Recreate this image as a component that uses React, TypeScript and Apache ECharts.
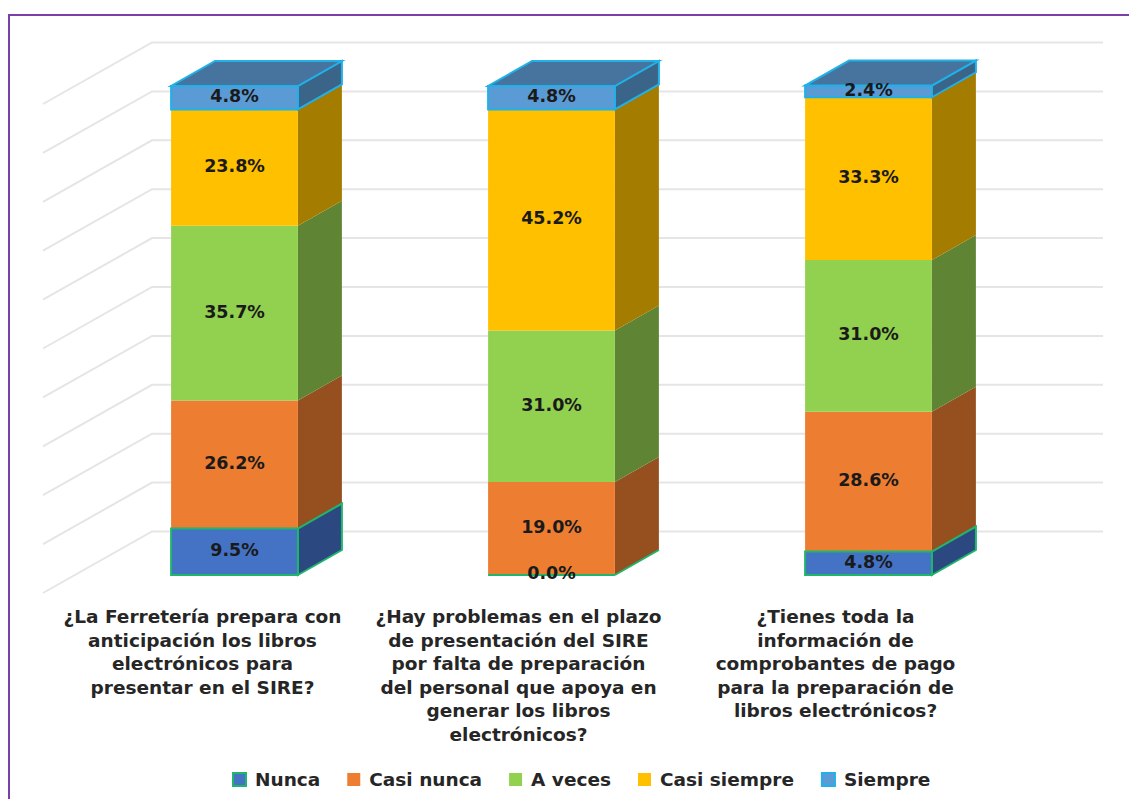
import React, { useEffect, useRef } from "react";
import * as echarts from "echarts";

const categories = [
  "¿La Ferretería prepara con\nanticipación los libros\nelectrónicos para\npresentar en el SIRE?",
  "¿Hay problemas en el plazo\nde presentación del SIRE\npor falta de preparación\ndel personal que apoya en\ngenerar los libros\nelectrónicos?",
  "¿Tienes toda la\ninformación de\ncomprobantes de pago\npara la preparación de\nlibros electrónicos?",
];
const seriesNames = ["Nunca", "Casi nunca", "A veces", "Casi siempre", "Siempre"];
const nunca = [9.5, 0, 4.8];
const casiNunca = [26.2, 19.0, 28.6];
const aVeces = [35.7, 31.0, 31.0];
const casiSiempre = [23.8, 45.2, 33.3];
const siempre = [4.8, 4.8, 2.4];
const allValues = [nunca, casiNunca, aVeces, casiSiempre, siempre];
const gridTicks = [0, 10, 20, 30, 40, 50, 60, 70, 80, 90, 100];
const labelShift = [64, 66, 66];

const frontColors = ["#4472C4", "#ED7D31", "#92D050", "#FFC000", "#5B9BD5"];
const sideColors = ["#2B4880", "#96501F", "#5F8534", "#A47C00", "#3A6488"];
const strokeColors = ["#1FB56C", null, null, null, "#1FB1E8"];
const seriesZ = [20, 3, 4, 5, 6];
const topColor = "#46749F";
const DX = 44;
const DY = 25;
const FONT = '"DejaVu Sans"';

export default function App() {
  const ref = useRef<HTMLDivElement>(null);
  useEffect(() => {
    const chart = echarts.init(ref.current!, null, { renderer: "svg" });
    const wallSeries: any = {
      type: "custom",
      name: "pared",
      silent: true,
      z: 1,
      data: gridTicks.map((t) => [0, t]),
      encode: { x: 0, y: 1 },
      renderItem: (params: any, api: any) => {
        const y = api.coord([0, api.value(1)])[1];
        const g = params.coordSys;
        const lineStyle = { stroke: "#E5E5E5", lineWidth: 2, fill: "none" };
        return {
          type: "group",
          children: [
            { type: "polyline", shape: { points: [[g.x - 33, y + 18], [g.x + 76, y - 43.5], [g.x + g.width + 76, y - 43.5]] }, style: lineStyle },
          ],
        };
      },
    };
    const barSeries = seriesNames.map((name, si) => {
      const vals = allValues[si];
      const data = vals.map((v, ci) => {
        let base = 0;
        for (let k = 0; k < si; k++) base += allValues[k][ci];
        return [ci, base, base + v, v];
      });
      return {
        type: "custom",
        name,
        z: seriesZ[si],
        itemStyle: {
          color: frontColors[si],
          borderColor: strokeColors[si] || frontColors[si],
          borderWidth: strokeColors[si] ? 2 : 0,
        },
        data,
        encode: { x: 0, y: [1, 2] },
        renderItem: (params: any, api: any) => {
          const c = api.value(0);
          const [cx, y0] = api.coord([c, api.value(1)]);
          const y1 = api.coord([c, api.value(2)])[1];
          const w = api.size([1, 0])[0] * 0.4;
          const l = cx - w / 2;
          const r = cx + w / 2;
          const stroke = strokeColors[si];
          const extra = stroke ? { stroke, lineWidth: 2 } : {};
          const children: any[] = [
            { type: "polygon", shape: { points: [[r, y0], [r + DX, y0 - DY], [r + DX, y1 - DY], [r, y1]] }, style: { fill: sideColors[si], ...extra } },
            { type: "polygon", shape: { points: [[l, y0], [r, y0], [r, y1], [l, y1]] }, style: { fill: frontColors[si], ...extra } },
          ];
          if (si === seriesNames.length - 1) {
            children.push({ type: "polygon", shape: { points: [[l, y1], [r, y1], [r + DX, y1 - DY], [l + DX, y1 - DY]] }, style: { fill: topColor, ...extra } });
          }
          children.push({
            type: "text",
            z2: 100,
            style: {
              text: api.value(3).toFixed(1) + "%",
              x: cx,
              y: Math.min((y0 + y1) / 2 - 1.5, y0 - 2),
              align: "center",
              verticalAlign: "middle",
              fill: "#1A1A1A",
              font: `bold 17.5px ${FONT}`,
            },
          });
          return { type: "group", children };
        },
      };
    });
    chart.setOption({
      animation: false,
      backgroundColor: "#FFFFFF",
      grid: { left: 76, top: 86, width: 951, height: 489, containLabel: false },
      xAxis: {
        type: "category",
        data: categories.map((value, i) => ({
          value,
          textStyle: { padding: [0, labelShift[i], 0, 0] },
        })),
        axisLine: { show: false },
        axisTick: { show: false },
        axisLabel: {
          interval: 0,
          margin: 30,
          fontFamily: FONT,
          fontWeight: "bold",
          fontSize: 18.5,
          lineHeight: 23.5,
          color: "#262626",
        },
      },
      yAxis: {
        type: "value",
        min: 0,
        max: 100,
        interval: 10,
        show: false,
      },
      legend: {
        data: seriesNames,
        left: 227,
        top: 765,
        itemWidth: 13,
        itemHeight: 13,
        itemGap: 27,
        icon: "rect",
        textStyle: { fontFamily: FONT, fontWeight: "bold", fontSize: 18.5, color: "#262626", padding: [0, 0, 0, 4] },
      },
      graphic: [
        {
          type: "polyline",
          shape: { points: [[9, 799], [9, 15], [1129, 15]] },
          style: { stroke: "#7B3FA8", lineWidth: 2, fill: "none" },
          silent: true,
        },
      ],
      series: [wallSeries, ...barSeries],
    });
    return () => chart.dispose();
  }, []);
  return <div ref={ref} style={{ position: "absolute", left: 0, top: 0, width: 1129, height: 799 }} />;
}
